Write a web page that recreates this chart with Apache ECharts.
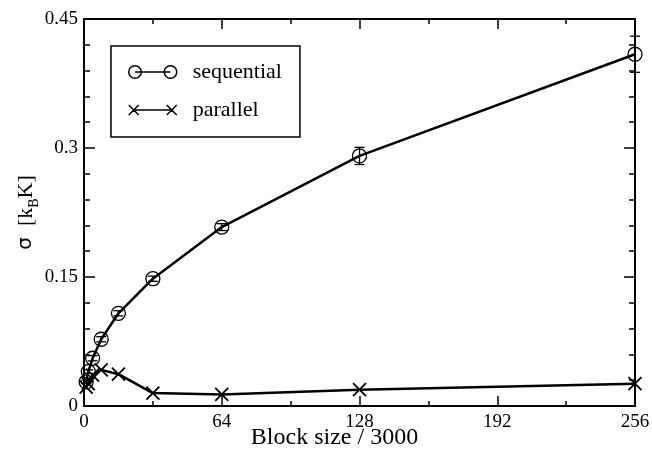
<!DOCTYPE html>
<html>
<head>
<meta charset="utf-8">
<script src="https://cdn.jsdelivr.net/npm/echarts@6/dist/echarts.min.js"></script>
<style>html,body{margin:0;padding:0;background:#fff}#c{width:652px;height:450px}</style>
</head>
<body>
<div id="c"></div>
<script>
var blockSizes = [1, 2, 4, 8, 16, 32, 64, 128, 256];
var sequential = [0.028, 0.040, 0.0555, 0.0776, 0.1078, 0.148, 0.208, 0.2908, 0.409];
var sequentialErr = [0.002, 0.002, 0.003, 0.003, 0.003, 0.003, 0.004, 0.010, 0.021];
var parallel = [0.022, 0.026, 0.036, 0.042, 0.037, 0.015, 0.0134, 0.019, 0.026];
var xTicks = [0, 64, 128, 192, 256];
var yTicks = [0, 0.15, 0.3, 0.45];
var seriesNames = ['sequential', 'parallel'];
var xTitle = 'Block size / 3000';

var FONT = 'Liberation Serif';
var chart = echarts.init(document.getElementById('c'), null, {renderer: 'canvas'});

function pairs(xs, ys) { return xs.map(function (x, i) { return [x, ys[i]]; }); }
var errData = blockSizes.map(function (x, i) { return [x, sequential[i], sequentialErr[i]]; });

function xAxisBase(pos) {
  return {
    type: 'value', position: pos, min: xTicks[0], max: xTicks[xTicks.length - 1], interval: 64,
    axisLine: {show: true, onZero: false, lineStyle: {color: '#000', width: 2}},
    axisTick: {show: true, inside: true, length: 10, lineStyle: {color: '#000', width: 1.5}},
    minorTick: {show: true, splitNumber: 2, length: 5, lineStyle: {color: '#000', width: 1.5}},
    splitLine: {show: false},
    axisLabel: {show: pos === 'bottom', color: '#000', fontFamily: FONT, fontSize: 19, margin: 7}
  };
}
function yAxisBase(pos) {
  return {
    type: 'value', position: pos, min: yTicks[0], max: yTicks[yTicks.length - 1], interval: 0.15,
    axisLine: {show: true, onZero: false, lineStyle: {color: '#000', width: 2}},
    axisTick: {show: true, inside: true, length: 11, lineStyle: {color: '#000', width: 1.5}},
    minorTick: {show: true, splitNumber: 5, length: 6, lineStyle: {color: '#000', width: 1.5}},
    splitLine: {show: false},
    axisLabel: {show: pos === 'left', color: '#000', fontFamily: FONT, fontSize: 19, margin: 6,
      formatter: function (v) { return String(+v.toFixed(2)); }}
  };
}

var xb = xAxisBase('bottom');
xb.name = xTitle;
xb.nameLocation = 'middle';
xb.nameGap = 20;
xb.nameMoveOverlap = false;
xb.nameTextStyle = {color: '#000', fontFamily: FONT, fontSize: 24, verticalAlign: 'top', padding: [0, 50, 0, 0]};

var yl = yAxisBase('left');
yl.name = '{s|σ}{a|  [k}{b|B}{a|K]}';
yl.nameLocation = 'middle';
yl.nameGap = 43;
yl.nameMoveOverlap = false;
yl.nameTextStyle = {color: '#000', fontFamily: FONT, fontSize: 22,
  rich: {
    s: {fontFamily: 'DejaVu Sans', fontSize: 20, color: '#000'},
    a: {fontFamily: FONT, fontSize: 22, color: '#000'},
    b: {fontFamily: FONT, fontSize: 14, color: '#000', padding: [16, 0, 0, 0]}
  }};

var circIcon = 'path://M1,7a6,6 0 1,0 12,0a6,6 0 1,0 -12,0M7,7L41,7M35,7a6,6 0 1,0 12,0a6,6 0 1,0 -12,0';
var crossIcon = 'path://M0,2L10,12M10,2L0,12M5,7L43,7M38,2L48,12M48,2L38,12';
var crossSym = 'path://M0,0L10,10M10,0L0,10';

chart.setOption({
  animation: false,
  backgroundColor: '#fff',
  grid: {left: 84, right: 17, top: 19, bottom: 44, containLabel: false, outerBoundsMode: 'none'},
  xAxis: [xb, xAxisBase('top')],
  yAxis: [yl, yAxisBase('right')],
  legend: {
    left: 111, top: 46, orient: 'vertical',
    backgroundColor: '#fff',
    borderColor: '#000', borderWidth: 1.5, borderRadius: 0,
    padding: [15, 18, 16, 17],
    itemGap: 16, itemWidth: 48, itemHeight: 14,
    textStyle: {color: '#000', fontFamily: FONT, fontSize: 22, padding: [0, 0, 0, 11]},
    itemStyle: {color: 'rgba(0,0,0,0)', borderColor: '#000', borderWidth: 1.5},
    data: [
      {name: seriesNames[0], icon: circIcon},
      {name: seriesNames[1], icon: crossIcon}
    ]
  },
  series: [
    {
      name: seriesNames[0], type: 'line', data: pairs(blockSizes, sequential),
      symbol: 'circle', symbolSize: 14,
      lineStyle: {color: '#000', width: 2.5},
      itemStyle: {color: 'rgba(0,0,0,0)', borderColor: '#000', borderWidth: 1.3},
      z: 3
    },
    {
      name: 'seqErr', type: 'custom', data: errData, z: 4,
      renderItem: function (params, api) {
        var x = api.value(0), y = api.value(1), e = api.value(2);
        var t = api.coord([x, y + e]), b = api.coord([x, y - e]);
        var st = {stroke: '#000', lineWidth: 1.3};
        return {type: 'group', children: [
          {type: 'line', shape: {x1: t[0], y1: t[1], x2: b[0], y2: b[1]}, style: st},
          {type: 'line', shape: {x1: t[0] - 5, y1: t[1], x2: t[0] + 5, y2: t[1]}, style: st},
          {type: 'line', shape: {x1: b[0] - 5, y1: b[1], x2: b[0] + 5, y2: b[1]}, style: st}
        ]};
      }
    },
    {
      name: seriesNames[1], type: 'line', data: pairs(blockSizes, parallel),
      symbol: crossSym, symbolSize: 13,
      lineStyle: {color: '#000', width: 2.5},
      itemStyle: {color: 'rgba(0,0,0,0)', borderColor: '#000', borderWidth: 1.8},
      z: 3
    }
  ]
});
</script>
</body>
</html>
